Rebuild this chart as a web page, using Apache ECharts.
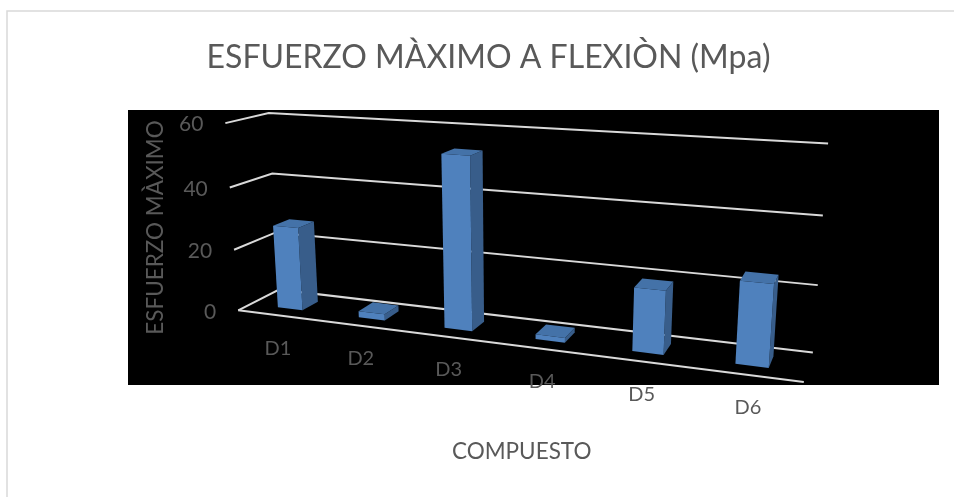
<!DOCTYPE html>
<html>
<head>
<meta charset="utf-8">
<script src="https://cdn.jsdelivr.net/npm/echarts@6/dist/echarts.min.js"></script>
<style>
  html, body { margin: 0; padding: 0; background: #ffffff; }
  #chart { width: 954px; height: 497px; }
</style>
</head>
<body>
<div id="chart"></div>
<script>
// ---- data ----
const categories = ['D1', 'D2', 'D3', 'D4', 'D5', 'D6'];
const stressValues = [27, 2, 53.5, 1.5, 19, 24];
const valueTicks = [0, 20, 40, 60];

// ---- style ----
const FONT_FAMILY = 'Lato, "Open Sans", sans-serif';
const TEXT_GREY = '#595959';
const GRID_LINE = '#d9d9d9';
const FACE_FRONT = '#4f81bd';
const FACE_SIDE = '#385d8a';
const FACE_TOP = '#4472a8';
const BAR_WIDTH_RATIO = 0.31;   // share of a category band
const BAR_DEPTH = [0.3, 0.7];   // front / back of the bars inside the floor depth

// Perspective box anchors: [u, v, w, pageX, pageY]
// u runs along the categories, v along the value axis (0..1), w from the front edge to the back wall.
const boxAnchors = [
  [0, 0, 0, 239.3, 310.0],
  [0, 1 / 3, 0, 234.3, 250.0],
  [0, 2 / 3, 0, 229.3, 187.7],
  [0, 1, 0, 224.3, 123.3],
  [0, 0, 1, 278.0, 290.0],
  [0, 2 / 3, 1, 272.3, 172.7],
  [0, 1, 1, 270.0, 113.3],
  [1, 0, 1, 812.7, 352.7],
  [1, 1 / 3, 1, 817.7, 285.0],
  [1, 2 / 3, 1, 823.3, 216.0],
  [1, 1, 1, 827.7, 143.3],
  [1, 0, 0, 804.0, 381.7]
];

// Least-squares fit of a 3x4 projection matrix (last entry fixed to 1).
function fitProjection(anchors) {
  const cx = 500, cy = 250, s = 300, n = 11;
  const AtA = Array.from({ length: n }, () => new Array(n).fill(0));
  const Atb = new Array(n).fill(0);
  const addRow = (row, rhs) => {
    for (let i = 0; i < n; i++) {
      Atb[i] += row[i] * rhs;
      for (let j = 0; j < n; j++) AtA[i][j] += row[i] * row[j];
    }
  };
  anchors.forEach(([u, v, w, x, y]) => {
    const xn = (x - cx) / s, yn = (y - cy) / s;
    addRow([u, v, w, 1, 0, 0, 0, 0, -xn * u, -xn * v, -xn * w], xn);
    addRow([0, 0, 0, 0, u, v, w, 1, -yn * u, -yn * v, -yn * w], yn);
  });
  const M = AtA.map((r, i) => r.concat([Atb[i]]));
  for (let c = 0; c < n; c++) {
    let piv = c;
    for (let r = c + 1; r < n; r++) if (Math.abs(M[r][c]) > Math.abs(M[piv][c])) piv = r;
    [M[c], M[piv]] = [M[piv], M[c]];
    for (let r = 0; r < n; r++) {
      if (r === c) continue;
      const f = M[r][c] / M[c][c];
      for (let k = c; k <= n; k++) M[r][k] -= f * M[c][k];
    }
  }
  const p = M.map((r, i) => r[n] / r[i]);
  return (u, v, w) => {
    const d = p[8] * u + p[9] * v + p[10] * w + 1;
    return [
      cx + s * (p[0] * u + p[1] * v + p[2] * w + p[3]) / d,
      cy + s * (p[4] * u + p[5] * v + p[6] * w + p[7]) / d
    ];
  };
}
const project = fitProjection(boxAnchors);

// Convert a cartesian pixel from the flat grid into normalized box coordinates.
function toBox(params, px, py) {
  const cs = params.coordSys;
  return [(px - cs.x) / cs.width, (cs.y + cs.height - py) / cs.height];
}

function renderFrame(params, api) {
  const tick = api.value(1);
  const pt = api.coord([0, tick]);
  const v = toBox(params, pt[0], pt[1])[1];
  const a = project(0, v, 0), b = project(0, v, 1), c = project(1, v, 1);
  const children = [
    { type: 'polyline', shape: { points: [a, b, c] },
      style: { stroke: GRID_LINE, lineWidth: 2, fill: null } },
    { type: 'text', style: {
        text: String(tick), x: a[0] - 22, y: a[1] + 1.5,
        align: 'right', verticalAlign: 'middle',
        fill: TEXT_GREY, fontSize: 21, fontFamily: FONT_FAMILY } }
  ];
  if (tick === 0) {
    const d = project(1, 0, 0);
    children.push({ type: 'line', shape: { x1: a[0], y1: a[1], x2: d[0], y2: d[1] },
      style: { stroke: GRID_LINE, lineWidth: 2 } });
  }
  return { type: 'group', children };
}

function renderBar(params, api) {
  const idx = api.value(0);
  const top = api.coord([idx, api.value(1)]);
  const base = api.coord([idx, 0]);
  const band = api.size([1, 0])[0];
  const half = band * BAR_WIDTH_RATIO / 2;
  const uL = toBox(params, base[0] - half, base[1])[0];
  const uR = toBox(params, base[0] + half, base[1])[0];
  const vT = toBox(params, top[0], top[1])[1];
  const [w0, w1] = BAR_DEPTH;
  const P = (u, v, w) => project(u, v, w);
  const side = [P(uR, 0, w0), P(uR, 0, w1), P(uR, vT, w1), P(uR, vT, w0)];
  const lid = [P(uL, vT, w0), P(uR, vT, w0), P(uR, vT, w1), P(uL, vT, w1)];
  const front = [P(uL, 0, w0), P(uR, 0, w0), P(uR, vT, w0), P(uL, vT, w0)];
  return { type: 'group', children: [
    { type: 'polygon', shape: { points: side }, style: { fill: FACE_SIDE } },
    { type: 'polygon', shape: { points: lid }, style: { fill: FACE_TOP } },
    { type: 'polygon', shape: { points: front }, style: { fill: FACE_FRONT } }
  ] };
}

function renderCategoryLabel(params, api) {
  const idx = api.value(0);
  const pt = api.coord([idx, 0]);
  const u = toBox(params, pt[0], pt[1])[0];
  const p = project(u, 0, 0);
  return { type: 'text', style: {
    text: categories[idx], x: p[0], y: p[1] + 33,
    align: 'center', verticalAlign: 'middle',
    fill: TEXT_GREY, fontSize: 20, fontFamily: FONT_FAMILY } };
}

const chart = echarts.init(document.getElementById('chart'), null, { renderer: 'canvas' });
chart.setOption({
  animation: false,
  backgroundColor: '#ffffff',
  grid: { left: 128, top: 110, width: 811, height: 275, show: true,
          backgroundColor: '#000000', borderWidth: 0 },
  xAxis: { type: 'category', data: categories, show: false },
  yAxis: { type: 'value', min: 0, max: 60, interval: 20, show: false },
  graphic: [
    { type: 'rect', shape: { x: 7, y: 11, width: 980, height: 520 },
      style: { fill: 'none', stroke: '#d9d9d9', lineWidth: 1.5 }, silent: true },
    { type: 'text', x: 488.5, y: 58, style: {
        text: 'ESFUERZO MÀXIMO A FLEXIÒN (Mpa)', align: 'center', verticalAlign: 'middle',
        fill: TEXT_GREY, fontSize: 32, fontFamily: FONT_FAMILY } },
    { type: 'text', x: 156, y: 227.5, rotation: Math.PI / 2, style: {
        text: 'ESFUERZO MÀXIMO', align: 'center', verticalAlign: 'middle',
        fill: TEXT_GREY, fontSize: 22.5, fontFamily: FONT_FAMILY } },
    { type: 'text', x: 521.7, y: 452, style: {
        text: 'COMPUESTO', align: 'center', verticalAlign: 'middle',
        fill: TEXT_GREY, fontSize: 22.5, fontFamily: FONT_FAMILY } }
  ],
  series: [
    { type: 'custom', name: 'frame', renderItem: renderFrame, clip: false,
      encode: { x: 0, y: 1 }, data: valueTicks.map(t => [0, t]), z: 1 },
    { type: 'custom', name: 'ESFUERZO MÀXIMO', renderItem: renderBar, clip: false,
      encode: { x: 0, y: 1 }, data: stressValues.map((v, i) => [i, v]), z: 2 },
    { type: 'custom', name: 'labels', renderItem: renderCategoryLabel, clip: false,
      encode: { x: 0, y: 1 }, data: categories.map((c, i) => [i, 0]), z: 3 }
  ]
});
</script>
</body>
</html>
